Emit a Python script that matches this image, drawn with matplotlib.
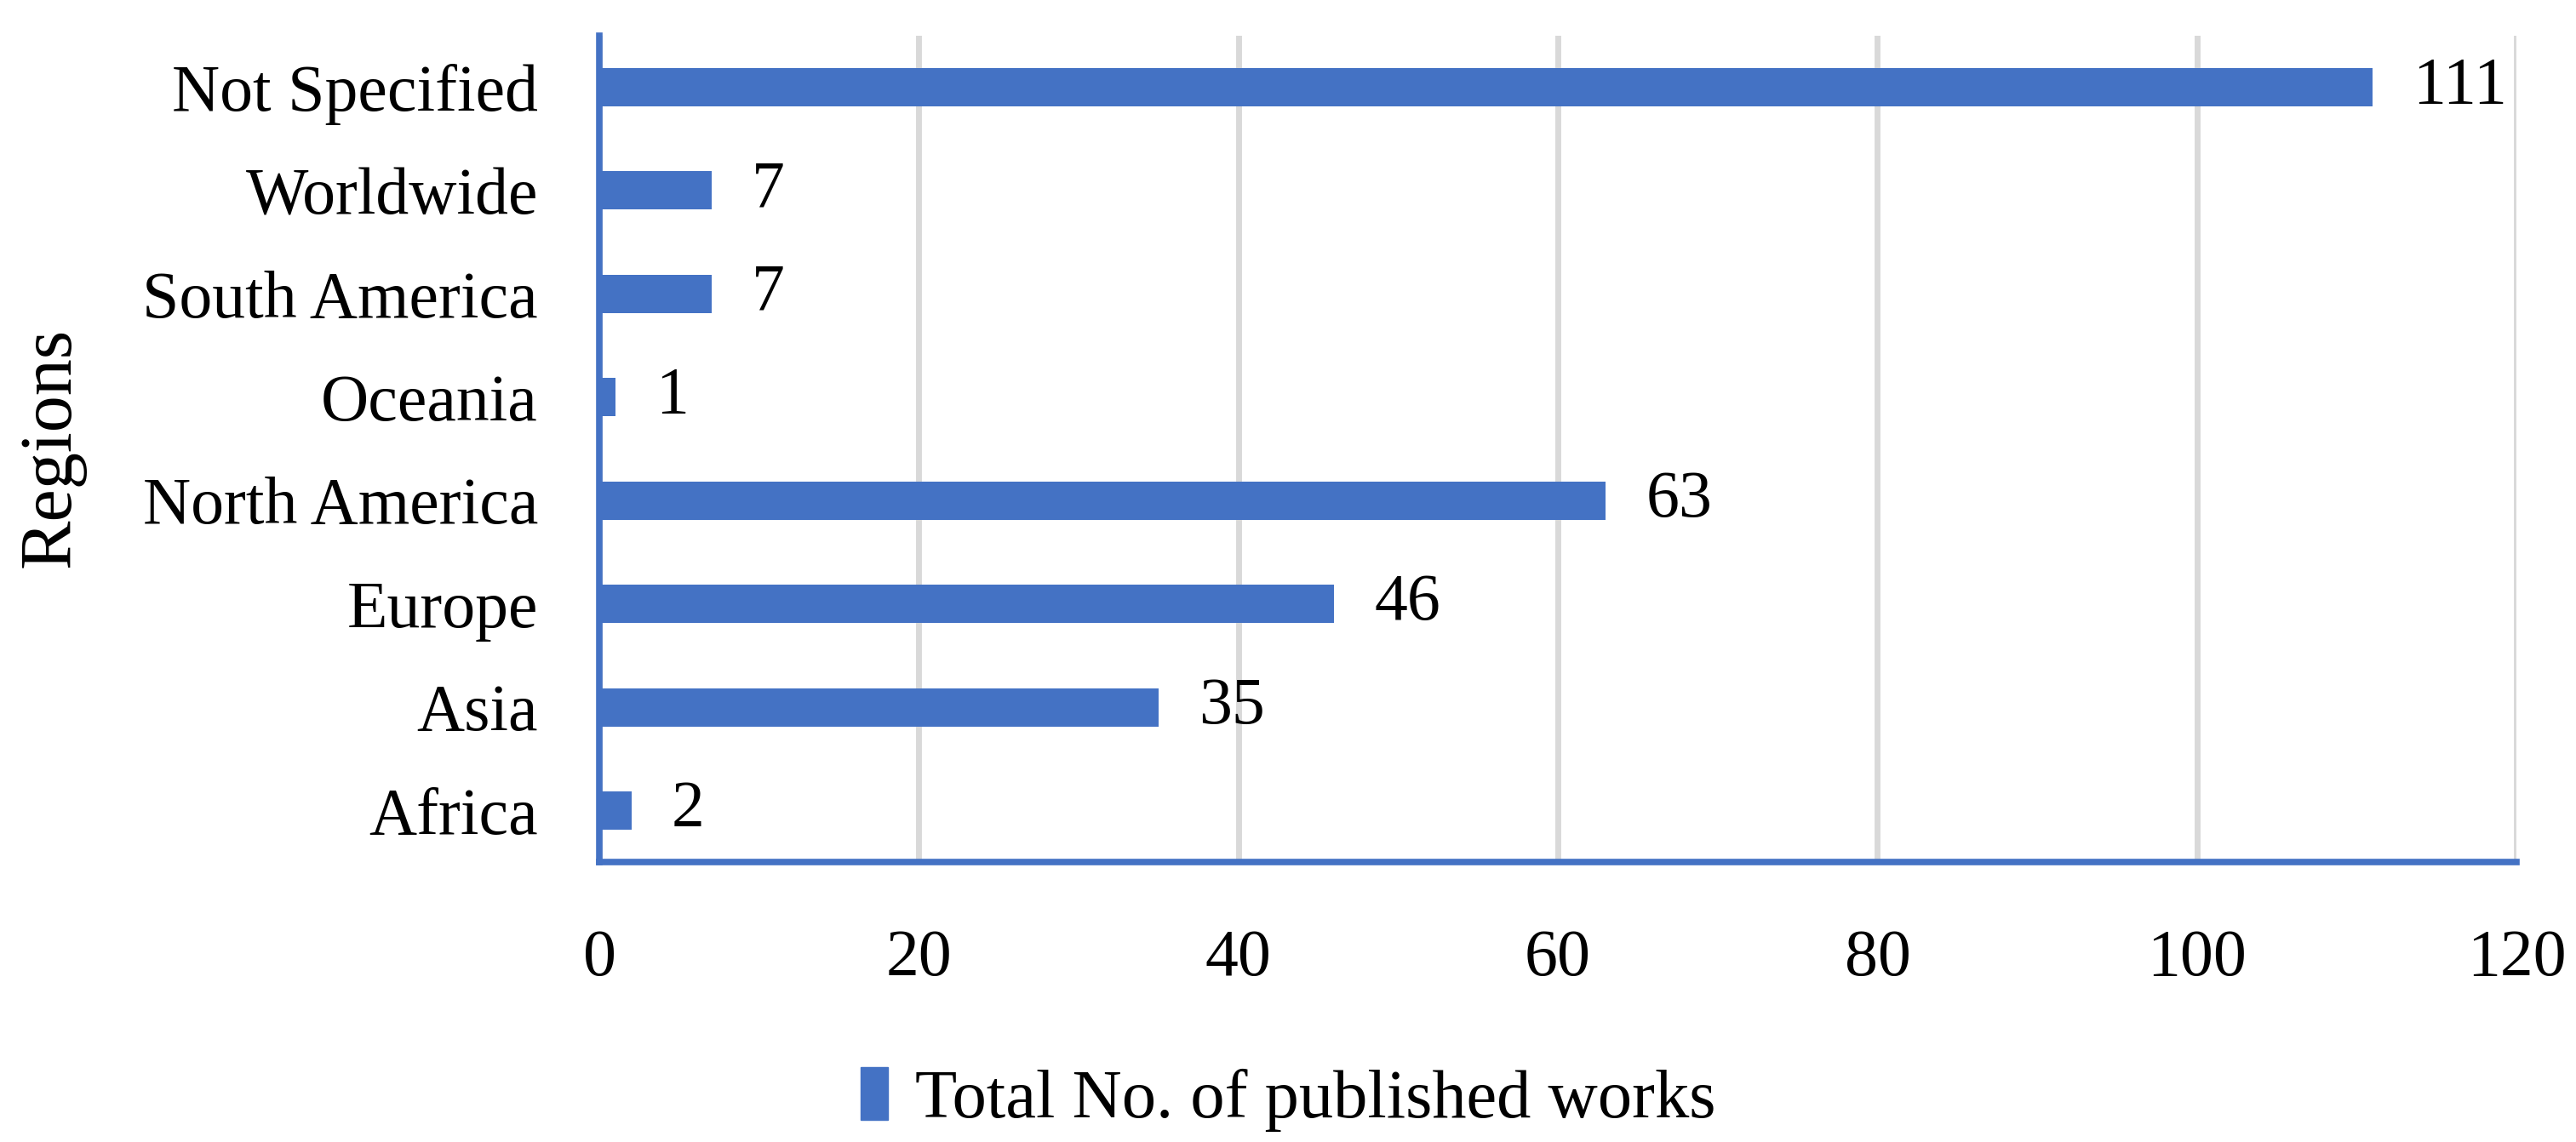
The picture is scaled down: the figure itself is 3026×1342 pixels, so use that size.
import matplotlib
matplotlib.use("Agg")
import matplotlib.pyplot as plt
from matplotlib.patches import Patch

regions = ["Africa", "Asia", "Europe", "North America", "Oceania",
           "South America", "Worldwide", "Not Specified"]
works = [2, 35, 46, 63, 1, 7, 7, 111]
x_ticks = [0, 20, 40, 60, 80, 100, 120]

BLUE = "#4472C4"
GRID = "#D9D9D9"
FS = 56

plt.rcParams["font.family"] = ["Liberation Serif", "DejaVu Serif"]

fig = plt.figure(figsize=(30.26, 13.42), dpi=100)
ax = fig.add_axes([0.2327, 0.245, 0.7442, 0.724])

pos = list(range(len(regions)))
ax.barh(pos, works, height=0.37, color=BLUE, zorder=3)
for p, v in zip(pos, works):
    ax.annotate(str(v), (v, p), xytext=(34, 0), textcoords="offset points",
                va="center", ha="left", fontsize=FS)

ax.set_xlim(0, 120)
ax.set_ylim(-0.5, len(regions) - 0.5)
ax.set_xticks(x_ticks)
ax.set_xticklabels([str(t) for t in x_ticks], fontsize=FS)
ax.set_yticks(pos)
ax.set_yticklabels(regions, fontsize=FS)
ax.tick_params(axis="both", length=0)
ax.tick_params(axis="x", pad=56)
ax.tick_params(axis="y", pad=52)

ax.grid(axis="x", color=GRID, linewidth=5, zorder=0)
for s in ["top", "right"]:
    ax.spines[s].set_visible(False)
for s in ["left", "bottom"]:
    ax.spines[s].set_color(BLUE)
    ax.spines[s].set_linewidth(5.5)
    ax.spines[s].set_zorder(4)

fig.text(0.02, 0.608, "Regions", rotation=90, ha="center", va="center", fontsize=62)

fig.legend(handles=[Patch(color=BLUE, label="Total No. of published works")],
           loc="center", bbox_to_anchor=(0.5, 0.037), frameon=False,
           fontsize=58, handlelength=0.4, handleheight=0.8, handletextpad=0.4)

fig.savefig("out.png", dpi=100)
